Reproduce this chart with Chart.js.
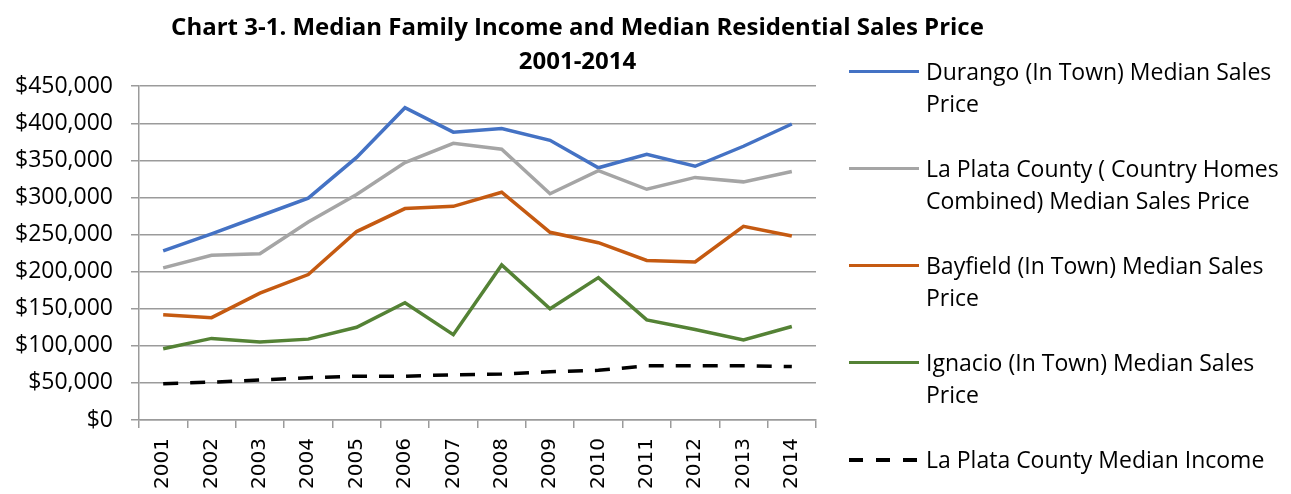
<!DOCTYPE html>
<html>
<head>
<meta charset="utf-8">
<script src="https://cdn.jsdelivr.net/npm/chart.js@4/dist/chart.umd.min.js"></script>
<style>
    body { margin: 0; background: #fff; }
    #wrap { position: relative; width: 1291px; height: 494px; }
    #legend {
        position: absolute;
        left: 849px;
        top: 55px;
        font-family: 'Open Sans', sans-serif;
        font-size: 23px;
        line-height: 32px;
        color: #000;
    }
    .legend-item { display: flex; align-items: flex-start; height: 97px; }
    .legend-line { width: 70px; height: 3px; margin-top: 15px; margin-right: 7px; flex: none; }
    .legend-text { white-space: pre; }
</style>
</head>
<body>
<div id="wrap">
    <canvas id="incomeChart" width="1291" height="494"></canvas>
    <div id="legend"></div>
</div>
<script>
// Years on the x axis
const years = ['2001', '2002', '2003', '2004', '2005', '2006', '2007', '2008', '2009', '2010', '2011', '2012', '2013', '2014'];

// Series values (dollars)
const durangoPrice = [228000, 251000, 275000, 299000, 354000, 421000, 388000, 393000, 377000, 340000, 358000, 342000, 369000, 399000];
const laPlataPrice = [205000, 222000, 224000, 267000, 304000, 347000, 373000, 365000, 305000, 336000, 311000, 327000, 321000, 335000];
const bayfieldPrice = [142000, 138000, 171000, 196000, 254000, 285000, 288000, 307000, 253000, 239000, 215000, 213000, 261000, 248000];
const ignacioPrice = [96000, 110000, 105000, 109000, 125000, 158000, 115000, 209000, 150000, 192000, 135000, 122000, 108000, 126000];
const medianIncome = [49000, 51000, 54000, 57000, 59000, 59000, 61000, 62000, 65000, 67000, 73000, 73000, 73000, 72000];

// Series names (line breaks used by the legend)
const seriesNames = [
    'Durango (In Town) Median Sales\nPrice',
    'La Plata County ( Country Homes\nCombined) Median Sales Price',
    'Bayfield (In Town) Median Sales\nPrice',
    'Ignacio (In Town) Median Sales\nPrice',
    'La Plata County Median Income'
];

const titleLines = ['Chart 3-1. Median Family Income and Median Residential Sales Price', '2001-2014'];

const gridColor = '#9b9b9b';

function line(label, data, color, dash) {
    return {
        label: label,
        data: data,
        borderColor: color,
        backgroundColor: color,
        borderWidth: 3.5,
        borderDash: dash || [],
        pointRadius: 0,
        fill: false,
        tension: 0
    };
}

const datasets = [
    line(seriesNames[0], durangoPrice, '#4472c4'),
    line(seriesNames[1], laPlataPrice, '#a5a5a5'),
    line(seriesNames[2], bayfieldPrice, '#c55a11'),
    line(seriesNames[3], ignacioPrice, '#548235'),
    line(seriesNames[4], medianIncome, '#000000', [15, 12])
];
// later series on top
datasets.forEach((d, i) => { d.order = datasets.length - i; });

const ctx = document.getElementById('incomeChart').getContext('2d');

new Chart(ctx, {
    type: 'line',
    data: { labels: years, datasets: datasets },
    options: {
        responsive: false,
        animation: false,
        devicePixelRatio: 1,
        layout: { padding: { left: 14, right: 150, top: 0, bottom: 0 } },
        plugins: {
            legend: { display: false },
            tooltip: { enabled: false },
            title: {
                display: true,
                text: titleLines,
                color: '#000',
                font: { family: 'Open Sans', size: 24, weight: 'bold', lineHeight: 1.42 },
                padding: { top: 11, bottom: 7 }
            }
        },
        scales: {
            x: {
                offset: true,
                grid: {
                    offset: true,
                    drawOnChartArea: false,
                    drawTicks: true,
                    tickLength: 8,
                    color: gridColor,
                    lineWidth: 1.5
                },
                border: { display: true, color: gridColor, width: 1.5 },
                ticks: {
                    color: '#000',
                    minRotation: 90,
                    maxRotation: 90,
                    padding: 10,
                    font: { family: 'DejaVu Sans', size: 20 }
                },
                afterFit: function (scale) { scale.height = 74; }
            },
            y: {
                min: 0,
                max: 450000,
                grid: { color: gridColor, lineWidth: 1.5, tickLength: 8 },
                border: { display: true, color: gridColor, width: 1.5 },
                ticks: {
                    stepSize: 50000,
                    color: '#000',
                    padding: 18,
                    font: { family: 'Open Sans', size: 23 },
                    callback: function (value) { return '$' + value.toLocaleString('en-US'); }
                },
                afterFit: function (scale) { scale.width = 125; }
            },
            // empty space on the right for the legend
            spacer: {
                type: 'linear',
                position: 'right',
                grid: { display: false },
                border: { display: false },
                ticks: { display: false },
                afterFit: function (scale) { scale.width = 325; }
            }
        }
    }
});

// Legend built as html so the long names can wrap
const legend = document.getElementById('legend');
datasets.forEach(d => {
    const item = document.createElement('div');
    item.className = 'legend-item';
    const sample = document.createElement('span');
    sample.className = 'legend-line';
    sample.style.background = d.borderDash.length
        ? 'repeating-linear-gradient(to right, ' + d.borderColor + ' 0 14px, transparent 14px 27px)'
        : d.borderColor;
    if (d.borderDash.length) sample.style.height = '4px';
    const text = document.createElement('span');
    text.className = 'legend-text';
    text.textContent = d.label;
    item.appendChild(sample);
    item.appendChild(text);
    legend.appendChild(item);
});
</script>
</body>
</html>
